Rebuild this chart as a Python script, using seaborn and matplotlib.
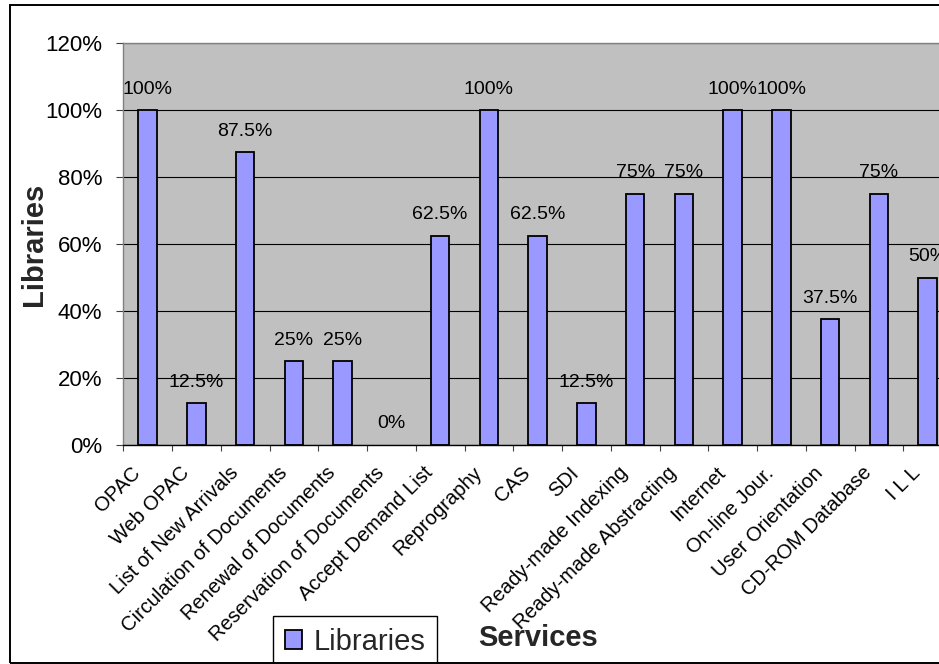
import numpy as np
import pandas as pd
import matplotlib
matplotlib.use("Agg")
import matplotlib.pyplot as plt
import matplotlib.transforms as mtransforms
from matplotlib.patches import Rectangle
import seaborn as sns

services = ["OPAC", "Web OPAC", "List of New Arrivals", "Circulation of Documents",
            "Renewal of Documents", "Reservation of Documents", "Accept Demand List",
            "Reprography", "CAS", "SDI", "Ready-made Indexing", "Ready-made Abstracting",
            "Internet", "On-line Jour.", "User Orientation", "CD-ROM Database", "I L L"]
libraries_pct = [100, 12.5, 87.5, 25, 25, 0, 62.5, 100, 62.5, 12.5, 75, 75,
                 100, 100, 37.5, 75, 50]
yticks = [0, 20, 40, 60, 80, 100, 120]
series_name = "Libraries"

df = pd.DataFrame({"service": services, "pct": libraries_pct,
                   "series": [series_name] * len(services)})

sns.set_theme(style="white")
plt.rcParams["font.family"] = ["Liberation Sans", "DejaVu Sans"]

W, H = 939, 664
fig = plt.figure(figsize=(W / 100, H / 100), dpi=100)
fig.patch.set_facecolor("white")

left_px, right_px, top_px, bot_px = 123.3, 952.0, 43.3, 445.0
ax = fig.add_axes([left_px / W, 1 - bot_px / H, (right_px - left_px) / W, (bot_px - top_px) / H])
ax.set_facecolor("#C0C0C0")

sns.barplot(data=df, x="service", y="pct", hue="series", palette=["#9999FF"],
            saturation=1, edgecolor="black", linewidth=1.3, width=0.38, dodge=False,
            ax=ax, legend=True)

# a zero-height bar shows nothing in the reference
for c in ax.containers:
    for p in c.patches:
        if p.get_height() == 0:
            p.set_linewidth(0)

ax.set_xlim(-0.5, len(services) - 0.5)
ax.set_ylim(0, 120)
ax.set_yticks(yticks)
ax.set_yticklabels([f"{v}%" for v in yticks], fontsize=16, color="black")
ax.grid(axis="y", color="black", linewidth=0.8)
ax.set_axisbelow(True)

for c in ax.containers:
    ax.bar_label(c, labels=[f"{v:g}%" for v in libraries_pct], padding=9,
                 fontsize=14, color="black")

for s in ["left", "top", "right"]:
    ax.spines[s].set_color("#808080")
    ax.spines[s].set_linewidth(1.0)
ax.spines["bottom"].set_color("black")
ax.spines["bottom"].set_linewidth(1.0)

ax.tick_params(axis="y", length=5, width=0.8, color="#404040", pad=10, left=True)
ax.set_xticks(range(len(services)))
ax.set_xticklabels(services, rotation=45, ha="right", va="center",
                   rotation_mode="anchor", fontsize=14.5, color="black")
ax.tick_params(axis="x", which="major", length=0, pad=18, bottom=True)
ax.set_xticks(np.arange(-0.5, len(services) + 0.5, 1), minor=True)
ax.tick_params(axis="x", which="minor", length=4.5, width=0.8, color="#404040", bottom=True)

offset = mtransforms.ScaledTranslation(-10 / 100, 0, fig.dpi_scale_trans)
for lab in ax.get_xticklabels():
    lab.set_transform(lab.get_transform() + offset)

ax.set_ylabel("Libraries", fontsize=21, fontweight="bold", va="center")
ax.yaxis.set_label_coords((33.7 - left_px) / (right_px - left_px), 0.5)
ax.set_xlabel("Services", fontsize=21, fontweight="bold", va="center")
ax.xaxis.set_label_coords(0.5, (bot_px - 638) / (bot_px - top_px))

handles, labels = ax.get_legend_handles_labels()
ax.legend(handles, labels, loc="upper left",
          bbox_to_anchor=(273 / W, 1 - 616 / H), bbox_transform=fig.transFigure,
          fontsize=21, frameon=True, fancybox=False, edgecolor="black",
          framealpha=1, handlelength=0.6, handleheight=0.6, handletextpad=0.4,
          borderpad=0.4, borderaxespad=0)
ax.get_legend().get_frame().set_linewidth(1.0)

fig.patches.append(Rectangle((10 / W, 1 / H), 2.0, 1 - 6 / H, transform=fig.transFigure,
                             fill=False, edgecolor="black", linewidth=1.4, zorder=0))

fig.savefig("out.png", dpi=100)
